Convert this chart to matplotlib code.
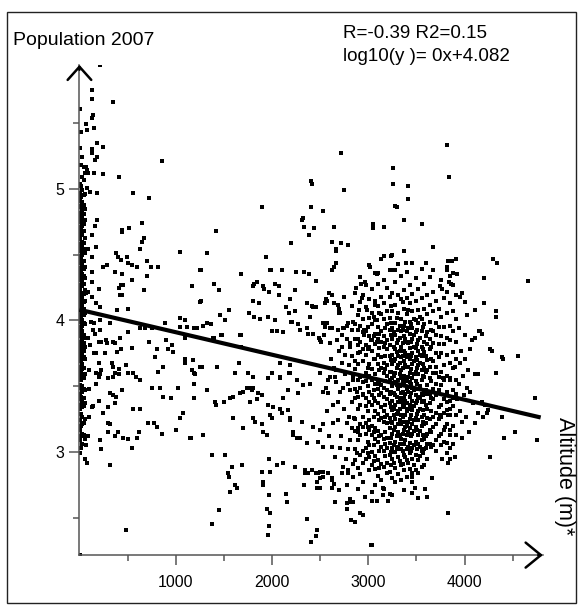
import numpy as np
import matplotlib.pyplot as plt
from matplotlib.patches import Rectangle

plt.rcParams['font.family'] = ['Liberation Sans', 'DejaVu Sans']

# fit shown in the chart
intercept = 4.082
slope = -0.000171
fit_text = ["R=-0.39 R2=0.15", "log10(y )= 0x+4.082"]

# dense column of towns at (near) zero altitude: altitude -> log10 population values
axis_col_alt = [2, 14, 28, 42, 58]
axis_col_pop = [
    [5.61, 5.31, 5.04, 4.97, 4.91, 4.87, 4.80, 4.77, 4.71, 4.64, 4.62, 4.55, 4.49, 4.46,
     4.40, 4.36, 4.31, 4.24, 4.19, 4.13, 4.08, 4.03, 3.99, 3.93, 3.88, 3.82, 3.79, 3.73,
     3.69, 3.62, 3.58, 3.51, 3.44, 3.40, 3.33, 3.24, 3.17, 3.09, 2.99, 2.22],
    [5.43, 5.18, 5.02, 4.94, 4.86, 4.82, 4.75, 4.69, 4.66, 4.58, 4.53, 4.47, 4.44, 4.38,
     4.33, 4.27, 4.21, 4.16, 4.10, 4.05, 4.01, 3.95, 3.90, 3.84, 3.81, 3.76, 3.70, 3.65,
     3.60, 3.55, 3.49, 3.42, 3.36, 3.29, 3.20, 3.12, 3.03],
    [5.24, 5.09, 4.99, 4.90, 4.84, 4.78, 4.72, 4.65, 4.60, 4.56, 4.50, 4.42, 4.35, 4.30,
     4.26, 4.18, 4.11, 4.07, 4.00, 3.96, 3.92, 3.86, 3.78, 3.74, 3.67, 3.63, 3.57, 3.50,
     3.46, 3.39, 3.34, 3.27, 3.21, 3.14, 3.06],
    [5.17, 5.07, 4.95, 4.88, 4.81, 4.73, 4.68, 4.59, 4.54, 4.45, 4.39, 4.34, 4.28, 4.20,
     4.14, 4.09, 4.04, 3.98, 3.89, 3.83, 3.77, 3.72, 3.64, 3.56, 3.48, 3.41, 3.35, 3.22, 3.13],
    [5.12, 4.96, 4.85, 4.76, 4.63, 4.51, 4.41, 4.32, 4.23, 4.15, 4.06, 3.97, 3.87, 3.80,
     3.71, 3.59, 3.47, 3.37, 3.25, 3.10, 2.95],
]

# low altitude towns (60 - 1300 m)
low_pts = [
    (213, 5.94), (130, 5.75), (130, 5.68), (348, 5.66), (140, 5.56), (130, 5.54), (67, 5.49),
    (78, 5.45), (150, 5.46), (182, 5.35), (244, 5.32), (130, 5.30), (130, 5.27), (182, 5.24),
    (161, 5.22), (857, 5.21), (67, 5.17), (78, 5.14), (88, 5.12), (150, 5.12), (244, 5.11),
    (410, 5.09), (555, 4.97), (722, 4.93), (182, 4.97), (109, 4.98), (78, 5.01),
    (182, 4.76), (161, 4.72), (130, 4.65), (171, 4.56), (130, 4.48), (88, 4.54), (130, 4.37),
    (130, 4.29), (203, 4.24), (441, 4.69), (441, 4.67), (514, 4.70), (649, 4.74), (670, 4.63),
    (649, 4.60), (628, 4.54), (1044, 4.52), (1168, 4.26), (1252, 4.38),
    (379, 4.51), (400, 4.48), (431, 4.46), (493, 4.48), (504, 4.44), (545, 4.42), (597, 4.41),
    (701, 4.45), (743, 4.41), (815, 4.41), (701, 4.34), (545, 4.31), (441, 4.35), (369, 4.37),
    (286, 4.42), (244, 4.41), (431, 4.27), (441, 4.19), (670, 4.23),
    (67, 4.21), (88, 4.22), (130, 4.18), (171, 4.13), (213, 4.10), (420, 4.19), (410, 4.25),
    (452, 4.27), (1252, 4.14), (119, 3.99), (150, 3.98), (213, 4.00), (317, 3.98), (390, 4.08),
    (504, 4.09), (628, 3.94), (680, 3.94), (753, 3.94), (888, 3.98), (1044, 4.02), (1096, 4.00),
    (1117, 3.95), (1220, 3.94),
    (57, 3.80), (109, 3.81), (88, 3.87), (140, 3.93), (161, 3.90), (213, 3.93), (203, 3.84),
    (223, 3.84), (275, 3.85), (286, 3.83), (348, 3.84), (369, 3.83), (420, 3.87), (390, 3.76),
    (431, 3.78), (504, 3.91), (545, 3.79), (150, 3.75), (171, 3.75), (265, 3.75), (203, 3.68),
    (338, 3.68), (815, 3.61), (867, 3.65), (784, 3.72), (805, 3.78), (722, 3.84), (898, 3.85),
    (919, 3.78), (971, 3.76), (960, 3.81), (1096, 3.71), (1096, 3.68), (1179, 3.70), (1168, 3.62),
    (171, 3.52), (203, 3.57), (171, 3.60), (223, 3.62), (213, 3.59), (296, 3.56), (348, 3.57),
    (369, 3.60), (348, 3.65), (410, 3.63), (410, 3.59), (483, 3.66), (504, 3.60), (555, 3.60),
    (587, 3.57), (628, 3.55), (753, 3.49), (836, 3.49), (867, 3.42), (950, 3.41), (1023, 3.49),
    (1189, 3.41), (1189, 3.52), (1200, 3.59),
    (130, 3.34), (140, 3.35), (203, 3.39), (244, 3.30), (296, 3.34), (369, 3.37), (317, 3.45),
    (348, 3.43), (380, 3.42), (441, 3.47), (555, 3.33), (628, 3.33), (711, 3.22), (773, 3.22),
    (805, 3.19), (857, 3.14), (1002, 3.17), (1044, 3.26), (1075, 3.30), (1148, 3.11),
    (296, 3.22), (317, 3.21), (296, 3.15), (369, 3.12), (400, 3.15), (452, 3.11), (504, 3.10),
    (597, 3.11), (618, 3.15), (213, 3.09), (223, 3.02), (545, 3.03), (78, 2.92), (317, 2.90),
    (483, 2.41), (95, 3.48), (102, 3.27), (88, 3.12), (70, 3.05), (98, 3.62),
    (1096, 3.87), (1189, 3.60), (1158, 3.11), (1283, 3.13),
]

# middle altitudes (1300 - 2850 m)
mid_pts = [
    (2717, 5.27), (2405, 5.06), (2410, 5.04), (2747, 4.99), (1893, 4.86), (2405, 4.86),
    (2530, 4.83), (2321, 4.78), (2310, 4.76), (2331, 4.71), (2435, 4.70), (2383, 4.65),
    (2643, 4.71), (3047, 4.73), (3047, 4.70), (1417, 4.68), (2196, 4.59), (2622, 4.60),
    (2716, 4.59), (2788, 4.57), (2663, 4.53), (1324, 4.51), (1936, 4.48), (2663, 4.44),
    (2643, 4.41), (2622, 4.38), (1978, 4.38), (1989, 4.38), (2102, 4.38), (2248, 4.37),
    (2331, 4.37), (2383, 4.35), (1262, 4.38), (1677, 4.35), (3017, 4.41), (3090, 4.35),
    (1397, 4.28), (1448, 4.23), (1813, 4.28), (1844, 4.29), (1802, 4.26), (1906, 4.26),
    (1917, 4.24), (1968, 4.22), (2030, 4.28), (2071, 4.26), (2238, 4.23), (2071, 4.19),
    (2186, 4.16), (2456, 4.30), (2591, 4.21), (2622, 4.19), (2747, 4.18), (2871, 4.25),
    (2923, 4.28), (2965, 4.29), (2934, 4.17), (3069, 4.15), (1262, 4.15), (1802, 4.15),
    (1865, 4.13), (2362, 4.13), (2425, 4.10), (2456, 4.10), (2550, 4.13), (2570, 4.15),
    (2643, 4.13), (2684, 4.12), (2144, 4.10), (2238, 4.07), (2176, 4.06), (2695, 4.09),
    (2695, 4.06), (2830, 4.11), (2903, 4.08), (2986, 4.08), (3090, 4.00), (1459, 4.04),
    (1510, 4.00), (1552, 4.08), (1760, 4.06), (1813, 4.03), (1875, 4.01), (1958, 4.03),
    (2030, 4.00), (2196, 3.99), (2269, 3.97), (2362, 3.94), (2425, 3.90), (2528, 3.98),
    (2570, 3.98), (2622, 3.94), (2684, 3.93), (2747, 3.94), (2788, 3.98), (2830, 3.93),
    (2955, 3.93), (1324, 3.98), (1366, 3.97), (1189, 3.94), (1283, 3.96), (1044, 3.95),
    (1677, 3.89), (1397, 3.87), (1470, 3.89), (1999, 3.92), (2051, 3.92), (2113, 3.91),
    (2487, 3.87), (2539, 3.89), (2508, 3.84), (2726, 3.89), (2778, 3.86), (2809, 3.83),
    (2892, 3.86), (2955, 3.89), (3027, 3.85), (3089, 3.84),
    (1386, 3.87), (1480, 3.89), (1666, 3.89), (1677, 3.80), (1656, 3.68), (1614, 3.60),
    (1750, 3.60), (1802, 3.57), (1958, 3.56), (1999, 3.60), (2082, 3.56), (2082, 3.68),
    (2186, 3.66), (2186, 3.60), (2165, 3.47), (2269, 3.45), (1252, 3.65), (1272, 3.65),
    (1428, 3.65), (1324, 3.47), (1407, 3.38), (1417, 3.36), (1500, 3.38), (1563, 3.41),
    (1594, 3.42), (1666, 3.45), (1698, 3.46), (1739, 3.49), (1770, 3.49), (1791, 3.47),
    (1802, 3.49), (1854, 3.45), (1770, 3.38), (1844, 3.40), (1896, 3.43),
    (1594, 3.26), (1698, 3.18), (1802, 3.26), (1823, 3.23), (1896, 3.21), (1906, 3.15),
    (1948, 3.13), (1978, 3.28), (1999, 3.26), (1958, 3.36), (2009, 3.34), (2082, 3.33),
    (2102, 3.30), (2165, 3.32), (2186, 3.24), (2217, 3.15), (2258, 3.11),
    (1376, 2.98), (1510, 2.98), (1583, 2.89), (1542, 2.84), (1552, 2.81), (1687, 2.90),
    (1614, 2.75), (1635, 2.73), (1563, 2.70), (1896, 2.85), (1978, 2.85), (2051, 2.90),
    (2113, 2.92), (2238, 2.89), (1906, 2.77), (1906, 2.75), (1968, 2.95), (1968, 2.67),
    (1948, 2.57), (1978, 2.54), (1968, 2.44), (1958, 2.37), (1448, 2.56), (1376, 2.45),
    (2144, 2.68), (2155, 2.62), (2362, 2.49), (2466, 2.41), (2456, 2.36), (2404, 2.32),
    (2331, 2.75), (2342, 2.84), (2373, 2.84), (2456, 2.84), (2477, 2.84), (2528, 2.85),
    (2466, 2.73), (2497, 2.73), (2466, 2.77), (2497, 2.80), (2622, 2.80), (2643, 2.76),
    (2695, 2.71), (2653, 2.62), (2736, 2.89), (2788, 2.84), (2778, 2.75), (2778, 2.61),
    (2778, 2.57), (2809, 2.62), (2840, 2.62), (2819, 2.48), (2913, 2.54), (2944, 2.52),
    (3027, 2.29),
    (2174, 3.60), (2321, 3.51), (2393, 3.52), (2528, 3.46), (2560, 3.49), (2580, 3.45),
    (2664, 3.53), (2705, 3.46), (2736, 3.49), (2809, 3.47), (2882, 3.46), (2944, 3.43),
    (2113, 3.41), (2102, 3.30), (2186, 3.26), (2310, 3.23), (2425, 3.19), (2497, 3.17),
    (2528, 3.21), (2632, 3.22), (2684, 3.24), (2778, 3.22), (2830, 3.18), (2892, 3.15),
    (2217, 3.13), (2290, 3.11), (2362, 3.07), (2477, 3.08), (2528, 3.04), (2622, 3.04),
    (2705, 3.03), (2788, 3.02), (2882, 2.99), (2342, 2.86), (2414, 2.86), (2497, 2.85),
    (2528, 2.81), (2580, 2.84), (2622, 2.79), (2726, 2.84), (2788, 2.86), (2840, 2.81),
    (2477, 2.73), (2622, 2.73), (2809, 2.64), (2082, 3.57), (2258, 3.55), (2497, 3.60),
    (2580, 3.55), (2653, 3.57), (2757, 3.59), (2840, 3.55), (2663, 4.54), (3100, 4.36),
    (2414, 4.11), (2445, 4.10), (2560, 4.16), (2705, 4.06), (2207, 3.99), (2393, 4.03),
    (2549, 3.95), (2601, 3.94), (2736, 3.94), (2778, 3.96), (2840, 3.99), (2290, 3.93),
    (2373, 3.90), (2497, 3.85), (2601, 3.83), (2674, 3.85), (2726, 3.80), (2809, 3.80),
    (2892, 3.81),
    # thickening towards the core
    (2612, 3.71), (2647, 3.64), (2681, 3.38), (2693, 3.77), (2716, 3.12), (2731, 3.68),
    (2752, 3.33), (2763, 3.74), (2771, 2.95), (2786, 3.52), (2797, 3.27), (2804, 3.66),
    (2813, 3.09), (2826, 3.73), (2832, 3.38), (2838, 2.91), (2845, 3.58), (2851, 3.26),
    (2568, 3.31), (2593, 3.12), (2606, 3.57), (2631, 3.36), (2659, 2.96), (2668, 3.62),
]

# dense core of high altitude towns: altitude -> log10 population values
core_alt = [2862, 2888, 2917, 2949, 2978, 3011, 3043, 3068, 3102, 3129, 3158, 3193, 3221,
            3249, 3282, 3308, 3343, 3368, 3402, 3431, 3458, 3493, 3519, 3553, 3578, 3612,
            3638, 3672, 3698, 3733, 3759, 3791, 3822, 3853, 3879, 3912]
core_pop = [
    [4.21, 3.97, 3.86, 3.69, 3.63, 3.48, 3.41, 3.25, 3.16, 3.02, 2.94],
    [4.04, 3.93, 3.75, 3.67, 3.55, 3.42, 3.33, 3.18, 3.09, 2.88, 2.72],
    [4.33, 4.14, 3.96, 3.84, 3.76, 3.57, 3.49, 3.36, 3.21, 3.13, 2.98, 2.83],
    [4.19, 4.01, 3.91, 3.78, 3.69, 3.53, 3.44, 3.27, 3.19, 3.01, 2.92, 2.77],
    [4.27, 4.10, 3.92, 3.81, 3.74, 3.60, 3.54, 3.41, 3.35, 3.22, 3.14, 3.03, 2.95],
    [4.42, 4.16, 4.02, 3.88, 3.80, 3.67, 3.58, 3.46, 3.38, 3.24, 3.17, 3.05, 2.96, 2.86],
    [4.24, 4.06, 3.97, 3.85, 3.77, 3.63, 3.55, 3.43, 3.36, 3.20, 3.13, 3.00, 2.90, 2.70],
    [4.36, 4.12, 4.00, 3.90, 3.82, 3.71, 3.59, 3.52, 3.39, 3.31, 3.18, 3.10, 2.97, 2.87, 2.75],
    [4.28, 4.11, 3.95, 3.86, 3.74, 3.67, 3.55, 3.48, 3.37, 3.29, 3.16, 3.08, 2.94, 2.82],
    [4.47, 4.18, 4.05, 3.92, 3.84, 3.72, 3.64, 3.51, 3.45, 3.34, 3.26, 3.13, 3.04, 2.91, 2.79],
    [4.31, 4.13, 4.01, 3.88, 3.80, 3.68, 3.60, 3.49, 3.42, 3.31, 3.23, 3.10, 3.01, 2.89, 2.72],
    [4.25, 4.07, 3.97, 3.85, 3.78, 3.66, 3.58, 3.47, 3.40, 3.28, 3.22, 3.11, 3.03, 2.92, 2.84],
    [4.38, 4.18, 4.02, 3.93, 3.81, 3.73, 3.61, 3.55, 3.44, 3.37, 3.26, 3.18, 3.07, 2.98, 2.85, 2.68],
    [4.50, 4.21, 4.07, 3.94, 3.86, 3.74, 3.67, 3.56, 3.50, 3.39, 3.32, 3.22, 3.14, 3.03, 2.95, 2.80],
    [4.29, 4.12, 3.98, 3.89, 3.78, 3.71, 3.60, 3.53, 3.43, 3.36, 3.25, 3.19, 3.08, 3.00, 2.88, 2.77],
    [4.43, 4.19, 4.06, 3.93, 3.85, 3.73, 3.66, 3.55, 3.48, 3.38, 3.31, 3.21, 3.15, 3.04, 2.96, 2.83],
    [4.34, 4.16, 4.01, 3.92, 3.80, 3.72, 3.62, 3.56, 3.45, 3.38, 3.28, 3.21, 3.10, 3.02, 2.90, 2.79],
    [4.53, 4.23, 4.09, 3.96, 3.88, 3.77, 3.69, 3.58, 3.51, 3.41, 3.34, 3.23, 3.17, 3.06, 2.98, 2.86, 2.71],
    [4.37, 4.17, 4.05, 3.92, 3.84, 3.72, 3.65, 3.54, 3.48, 3.37, 3.31, 3.20, 3.13, 3.02, 2.94, 2.81],
    [4.27, 4.13, 3.99, 3.90, 3.79, 3.71, 3.60, 3.53, 3.42, 3.36, 3.25, 3.18, 3.07, 2.99, 2.87],
    [4.44, 4.20, 4.07, 3.94, 3.86, 3.75, 3.67, 3.56, 3.49, 3.39, 3.32, 3.21, 3.14, 3.03, 2.95, 2.77],
    [4.32, 4.15, 4.00, 3.91, 3.79, 3.72, 3.61, 3.54, 3.43, 3.37, 3.26, 3.19, 3.08, 2.98, 2.86],
    [4.24, 4.08, 3.98, 3.85, 3.77, 3.66, 3.59, 3.48, 3.42, 3.31, 3.24, 3.13, 3.06, 2.94, 2.84],
    [4.39, 4.17, 4.01, 3.92, 3.80, 3.73, 3.62, 3.55, 3.44, 3.38, 3.27, 3.20, 3.09, 3.01, 2.89],
    [4.28, 4.09, 3.97, 3.84, 3.76, 3.64, 3.57, 3.46, 3.39, 3.28, 3.21, 3.10, 3.02, 2.90],
    [4.19, 4.05, 3.91, 3.82, 3.70, 3.62, 3.51, 3.44, 3.33, 3.26, 3.14, 3.06, 2.95],
    [4.33, 4.12, 3.99, 3.86, 3.78, 3.65, 3.56, 3.44, 3.37, 3.25, 3.17, 3.06],
    [4.22, 4.07, 3.92, 3.83, 3.69, 3.60, 3.48, 3.40, 3.27, 3.19, 3.05],
    [4.15, 3.98, 3.89, 3.75, 3.65, 3.52, 3.43, 3.30, 3.21, 3.09, 3.01],
    [4.09, 3.95, 3.82, 3.72, 3.57, 3.47, 3.34, 3.25, 3.12],
    [4.31, 4.03, 3.88, 3.75, 3.61, 3.51, 3.36, 3.27, 3.14, 3.05],
    [4.17, 3.95, 3.82, 3.66, 3.55, 3.40, 3.30, 3.17, 3.08],
    [4.41, 4.22, 4.06, 3.87, 3.74, 3.58, 3.46, 3.32, 3.21, 3.07, 2.99],
    [4.34, 4.13, 3.96, 3.85, 3.68, 3.56, 3.39, 3.28, 3.13, 3.03],
    [4.27, 4.07, 3.92, 3.76, 3.64, 3.47, 3.35, 3.20, 3.06],
    [4.19, 4.01, 3.84, 3.71, 3.55, 3.44, 3.28, 3.13],
]

# the darkest part of the core, between the columns above
core2_alt = [2995, 3056, 3115, 3176, 3236, 3265, 3295, 3325, 3356, 3385, 3417, 3445,
             3476, 3506, 3536, 3566, 3596, 3655]
core2_pop = [
    [3.95, 3.78, 3.64, 3.50, 3.31, 3.19, 3.08, 2.99],
    [4.03, 3.88, 3.71, 3.47, 3.41, 3.27, 3.15, 3.05, 2.93],
    [4.06, 3.90, 3.79, 3.62, 3.52, 3.43, 3.24, 3.12, 3.01, 2.88],
    [3.94, 3.83, 3.73, 3.63, 3.54, 3.36, 3.27, 3.15, 3.06, 2.97],
    [4.11, 3.98, 3.89, 3.70, 3.61, 3.46, 3.34, 3.23, 3.11, 3.00, 2.90],
    [3.91, 3.80, 3.69, 3.58, 3.45, 3.33, 3.28, 3.17, 3.05, 2.92],
    [4.02, 3.83, 3.76, 3.64, 3.51, 3.42, 3.29, 3.12, 3.02],
    [3.96, 3.87, 3.77, 3.68, 3.59, 3.50, 3.41, 3.33, 3.24, 3.13, 3.06, 2.93],
    [4.14, 3.93, 3.83, 3.73, 3.64, 3.53, 3.46, 3.36, 3.27, 3.14, 3.01, 2.91],
    [3.99, 3.86, 3.75, 3.66, 3.56, 3.44, 3.39, 3.28, 3.19, 3.09, 2.96],
    [4.08, 3.94, 3.83, 3.74, 3.65, 3.57, 3.46, 3.33, 3.23, 3.15, 3.04, 2.92],
    [3.97, 3.84, 3.73, 3.63, 3.52, 3.45, 3.34, 3.28, 3.12, 3.01],
    [4.01, 3.89, 3.80, 3.69, 3.59, 3.47, 3.35, 3.24, 3.16, 3.05, 2.90],
    [3.93, 3.82, 3.70, 3.64, 3.52, 3.39, 3.29, 3.17, 3.02],
    [4.03, 3.87, 3.74, 3.68, 3.50, 3.41, 3.33, 3.16, 3.04, 2.97],
    [3.95, 3.78, 3.67, 3.58, 3.43, 3.32, 3.23, 3.13, 2.99],
    [3.88, 3.73, 3.61, 3.47, 3.36, 3.22, 3.12, 3.03],
    [3.93, 3.80, 3.71, 3.54, 3.41, 3.31, 3.15, 3.04],
]

# high altitude outliers and sparse right side
high_pts = [
    (3816, 5.33), (3837, 5.09), (3256, 5.16), (3256, 5.04), (3411, 5.02), (3411, 4.92),
    (3277, 4.87), (3297, 4.86), (3370, 4.76), (3162, 4.71), (3556, 4.73), (3670, 4.56),
    (3162, 4.49), (3235, 4.49), (3390, 4.44), (3598, 4.44), (3235, 4.38), (3277, 4.38),
    (3670, 4.38), (3827, 4.45), (3868, 4.45), (3910, 4.47), (3816, 4.38), (3878, 4.36),
    (3920, 4.35), (4294, 4.47), (4336, 4.44), (4657, 4.30), (4200, 4.32), (4200, 4.13),
    (4325, 4.07), (4325, 4.03), (3837, 4.29), (3858, 4.28), (3743, 4.26), (3764, 4.24),
    (4003, 4.14), (4107, 4.08), (4024, 4.04), (4148, 3.92), (4159, 3.92), (3972, 4.21),
    (3950, 4.18), (4730, 3.41), (4751, 3.09), (4408, 3.11), (4523, 3.15), (4263, 2.96),
    (3827, 2.54), (3037, 2.29), (4555, 3.73), (4398, 3.71), (4325, 3.60), (4283, 3.77),
    (4387, 3.27), (4232, 3.30), (4242, 3.32), (4190, 3.27), (4107, 3.22), (4138, 3.30),
    (4211, 3.36), (3972, 3.23), (3899, 2.96), (3827, 2.92), (3847, 2.95), (3764, 2.95),
    (3660, 2.80), (3588, 2.72), (3609, 2.66), (3515, 2.65), (3453, 2.69), (3484, 2.73),
    (3453, 2.81), (3453, 2.84), (3245, 2.67), (3204, 2.63), (3152, 2.73), (3152, 2.67),
    (3089, 2.63), (3037, 2.63), (2965, 2.66), (2944, 2.52), (2861, 2.47),
    (4107, 3.59), (4138, 3.59), (4024, 3.49), (3878, 3.41), (3920, 3.40), (3816, 3.38),
    (3847, 3.33), (3827, 3.28), (3743, 3.28), (3795, 3.19), (3847, 3.17), (4180, 3.38),
    (4086, 3.37), (3701, 3.60), (3774, 3.56), (3847, 3.55), (3899, 3.65), (3951, 3.68),
    (4003, 3.71), (4055, 3.78), (4107, 3.87), (4263, 3.78), (4387, 3.72), (4076, 3.85),
    (4180, 3.90),
    # thinning out past the core
    (3938, 3.94), (3946, 3.52), (3957, 3.31), (3962, 3.77), (3978, 3.11), (3985, 3.58),
    (3993, 3.43), (4009, 3.89), (4016, 3.27), (4031, 3.62), (4044, 3.15), (4061, 3.46),
]

altitude = []
log_pop = []
for a, vals in zip(axis_col_alt + core_alt + core2_alt, axis_col_pop + core_pop + core2_pop):
    altitude += [a] * len(vals)
    log_pop += vals
for a, v in low_pts + mid_pts + high_pts:
    altitude.append(a)
    log_pop.append(v)

fig = plt.figure(figsize=(5.8, 6.06), dpi=100)
ax = fig.add_axes([0.137, 0.084, 0.799, 0.809])

ax.scatter(altitude, log_pop, s=5, marker='s', c='black', linewidths=0, zorder=2)

fit_x = np.array([0, 4790])
ax.plot(fit_x, intercept + slope * fit_x, color='black', lw=3, solid_capstyle='butt', zorder=3)

ax.set_xlim(0, 4813)
ax.set_ylim(2.217, 5.943)

axis_grey = '#555555'
for side in ['top', 'right']:
    ax.spines[side].set_visible(False)
for side in ['left', 'bottom']:
    ax.spines[side].set_color(axis_grey)
    ax.spines[side].set_linewidth(1.1)

ax.set_xticks([1000, 2000, 3000, 4000])
ax.set_xticks([500, 1500, 2500, 3500, 4500], minor=True)
ax.set_yticks([3, 4, 5])
ax.set_yticks([2.5, 3.5, 4.5, 5.5], minor=True)
ax.tick_params(which='major', length=7.5, width=1.1, color=axis_grey, labelsize=11.5)
ax.tick_params(which='minor', length=4, width=1.1, color=axis_grey)
ax.tick_params(axis='x', which='major', pad=7)
ax.tick_params(axis='y', which='major', pad=3.5)

# open chevrons at the axis ends
ax.annotate('', xy=(0, 1), xytext=(0, 0.99), xycoords='axes fraction',
            arrowprops=dict(arrowstyle='->,head_length=0.95,head_width=0.85',
                            mutation_scale=10, lw=1.8, color='black',
                            shrinkA=0, shrinkB=0))
ax.annotate('', xy=(1, 0), xytext=(0.99, 0), xycoords='axes fraction',
            arrowprops=dict(arrowstyle='->,head_length=1.1,head_width=0.9',
                            mutation_scale=10, lw=1.8, color='black',
                            shrinkA=0, shrinkB=0))

fig.text(13 / 580, 1 - 45 / 606, "Population 2007", fontsize=14, va='baseline')
fig.text(343 / 580, 1 - 38 / 606, fit_text[0], fontsize=13.5, va='baseline')
fig.text(343 / 580, 1 - 61 / 606, fit_text[1], fontsize=13.5, va='baseline')
fig.text(565 / 580, 1 - 476 / 606, "Altitude (m)*", fontsize=15.5, rotation=270,
         ha='center', va='center')

fig.add_artist(Rectangle((7 / 580, 1 - 603 / 606), 569 / 580, 591 / 606,
                         transform=fig.transFigure, fill=False, lw=1, edgecolor='#222222'))

fig.savefig('out.png', dpi=100)
